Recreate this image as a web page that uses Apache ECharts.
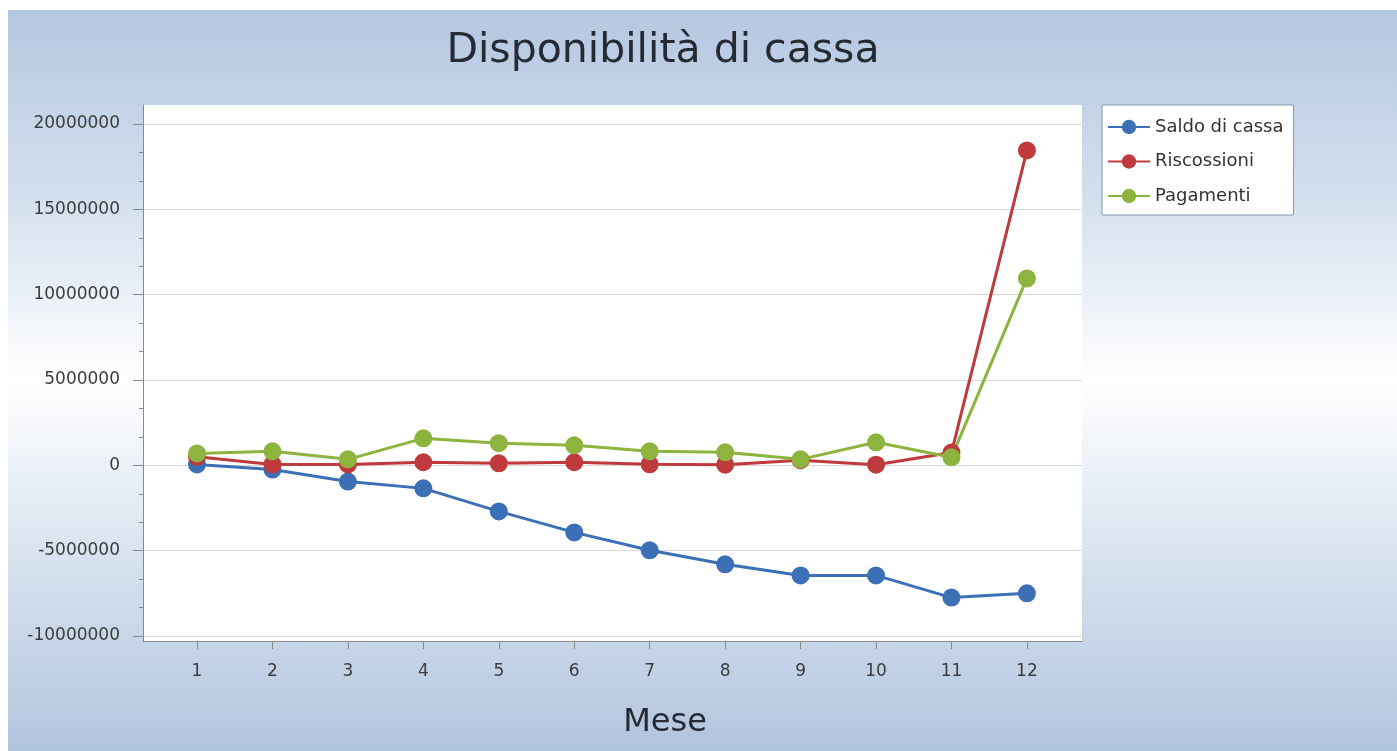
<!DOCTYPE html>
<html>
<head>
<meta charset="utf-8">
<script src="https://cdn.jsdelivr.net/npm/echarts@6/dist/echarts.min.js"></script>
<style>
  html, body { margin: 0; padding: 0; background: #ffffff; }
  #chart { position: absolute; left: 8px; top: 10px; width: 1389px; height: 741px; }
</style>
</head>
<body>
<div id="chart"></div>
<script>
// Months on the horizontal axis
const months = [1, 2, 3, 4, 5, 6, 7, 8, 9, 10, 11, 12];

// Monthly values
const saldo       = [50000, -250000, -950000, -1350000, -2700000, -3930000, -4980000, -5800000, -6450000, -6450000, -7750000, -7500000];
const riscossioni = [500000, 50000, 50000, 180000, 120000, 180000, 60000, 40000, 300000, 40000, 750000, 18450000];
const pagamenti   = [700000, 820000, 350000, 1580000, 1300000, 1170000, 820000, 760000, 350000, 1350000, 470000, 10950000];

// Labelled values on the vertical axis
const yTicks = [-10000000, -5000000, 0, 5000000, 10000000, 15000000, 20000000];

const seriesNames = ['Saldo di cassa', 'Riscossioni', 'Pagamenti'];
const seriesColors = ['#3d6fb6', '#be3a3c', '#8cb43e'];
const seriesValues = [saldo, riscossioni, pagamenti];

// two minor ticks between each pair of labelled values
const minorTicks = [];
for (let i = 0; i < yTicks.length - 1; i++) {
  const step = (yTicks[i + 1] - yTicks[i]) / 3;
  minorTicks.push(yTicks[i] + step, yTicks[i] + 2 * step);
}

const FONT = 'DejaVu Sans';
const AXIS_COLOR = '#8a8a8a';
const Y_MIN = -10293000, Y_MAX = 21113000;

const chart = echarts.init(document.getElementById('chart'), null, { renderer: 'canvas' });

chart.setOption({
  animation: false,
  backgroundColor: {
    type: 'linear', x: 0, y: 0, x2: 0, y2: 1,
    colorStops: [
      { offset: 0, color: '#b4c7e0' },
      { offset: 0.25, color: '#d3dfee' },
      { offset: 0.5, color: '#ffffff' },
      { offset: 0.75, color: '#d6e1ee' },
      { offset: 1, color: '#b1c4de' }
    ]
  },
  graphic: [
    {
      type: 'text', x: 655, y: 41,
      style: { text: 'Disponibilità di cassa', textAlign: 'center', textVerticalAlign: 'middle',
               fontSize: 41, fontFamily: FONT, fill: '#262a33' }
    },
    {
      type: 'text', x: 657, y: 713,
      style: { text: 'Mese', textAlign: 'center', textVerticalAlign: 'middle',
               fontSize: 32, fontFamily: FONT, fill: '#262a33' }
    }
  ],
  grid: {
    left: 135, right: 315, top: 95, bottom: 110,
    show: true, backgroundColor: '#ffffff', borderWidth: 0
  },
  legend: {
    orient: 'vertical', left: 1094, top: 95,
    padding: [13, 10, 10, 5],
    itemWidth: 42, itemHeight: 18, itemGap: 16.5,
    backgroundColor: '#ffffff', borderColor: '#8797ad', borderWidth: 1, borderRadius: 0,
    textStyle: { fontSize: 18, fontFamily: FONT, color: '#333333', lineHeight: 18 },
    data: seriesNames
  },
  xAxis: {
    type: 'value', min: 0.284, max: 12.73,
    axisLine: { show: true, onZero: false, lineStyle: { color: AXIS_COLOR, width: 1 } },
    axisTick: { show: true, length: 8, customValues: months, lineStyle: { color: AXIS_COLOR } },
    axisLabel: { customValues: months, margin: 22, fontSize: 17, fontFamily: FONT, color: '#3c3c3c' },
    splitLine: { show: false }
  },
  yAxis: [
    {
      type: 'value', min: Y_MIN, max: Y_MAX,
      axisLine: { show: true, onZero: false, lineStyle: { color: AXIS_COLOR, width: 1 } },
      axisTick: { show: true, length: 10, customValues: yTicks, lineStyle: { color: AXIS_COLOR } },
      axisLabel: { customValues: yTicks, margin: 23, fontSize: 17, fontFamily: FONT, color: '#3c3c3c',
                   formatter: v => String(v) },
      splitLine: { show: true, lineStyle: { color: '#d9d9d9', width: 1 } }
    },
    {
      type: 'value', min: Y_MIN, max: Y_MAX, position: 'left',
      axisLine: { show: false, onZero: false },
      axisTick: { show: true, length: 4, customValues: minorTicks, lineStyle: { color: AXIS_COLOR } },
      axisLabel: { show: false },
      splitLine: { show: false }
    }
  ],
  series: seriesNames.map((name, k) => ({
    name: name,
    type: 'line',
    xAxisIndex: 0, yAxisIndex: 0,
    data: months.map((m, i) => [m, seriesValues[k][i]]),
    symbol: 'circle',
    symbolSize: 18,
    showSymbol: true,
    lineStyle: { width: 3, color: seriesColors[k] },
    itemStyle: { color: seriesColors[k] },
    emphasis: { disabled: true }
  }))
});
</script>
</body>
</html>
